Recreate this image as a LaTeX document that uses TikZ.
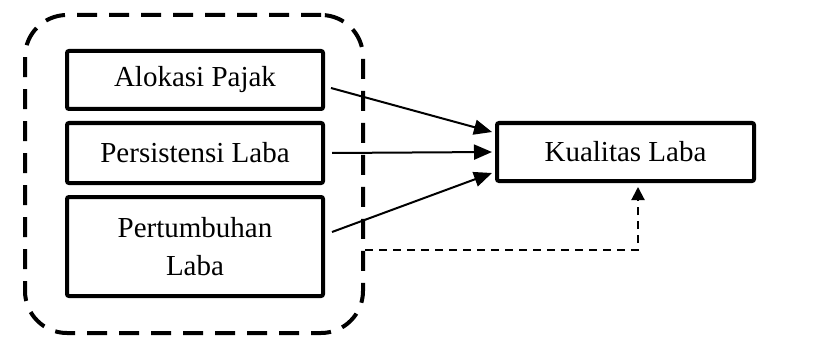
\documentclass[tikz,border=0pt]{standalone}
\usepackage{fontspec}
\setmainfont{Liberation Serif}
\usetikzlibrary{arrows.meta,calc}
\begin{document}
\begin{tikzpicture}[x=1pt,y=-1pt,
  varbox/.style={draw=black,line width=4pt,rounded corners=2pt,minimum width=256pt,align=center,inner sep=0pt,
    font=\fontsize{29}{38}\selectfont},
  group/.style={draw=black,line width=4pt,dash pattern=on 20pt off 12pt,rounded corners=42pt,minimum width=338pt,minimum height=318pt,inner sep=0pt},
  arr/.style={line width=2pt,-{Triangle[length=18pt,width=15pt]}},
  darr/.style={line width=2pt,dash pattern=on 8pt off 6pt,-{Triangle[length=13pt,width=13pt]}}]
\useasboundingbox (0,0) rectangle (829,350);
\node[group] (grp) at (194,174) {};
\node[varbox,minimum height=58pt] (b1) at (195,80) {Alokasi Pajak};
\node[varbox,minimum height=60pt] (b2) at (195,153) {Persistensi Laba};
\node[varbox,minimum height=99pt] (b3) at (195,246.5) {Pertumbuhan\\Laba};
\node[varbox,minimum width=257pt,minimum height=58pt] (kl) at (625.5,152) {Kualitas Laba};
\draw[arr] ([xshift=6pt,yshift=-8pt]b1.east) -- ([xshift=-3pt,yshift=20pt]kl.west);
\draw[arr] ([xshift=7pt]b2.east) -- ([xshift=-3pt]kl.west);
\draw[arr] ([xshift=7pt,yshift=14.5pt]b3.east) -- ([xshift=-3pt,yshift=-21pt]kl.west);
\coordinate (ds) at ($(grp.east)+(0,76)$);
\coordinate (de) at ([xshift=12.5pt,yshift=-4pt]kl.south);
\draw[darr] (ds) -| (de);
\end{tikzpicture}
\end{document}
